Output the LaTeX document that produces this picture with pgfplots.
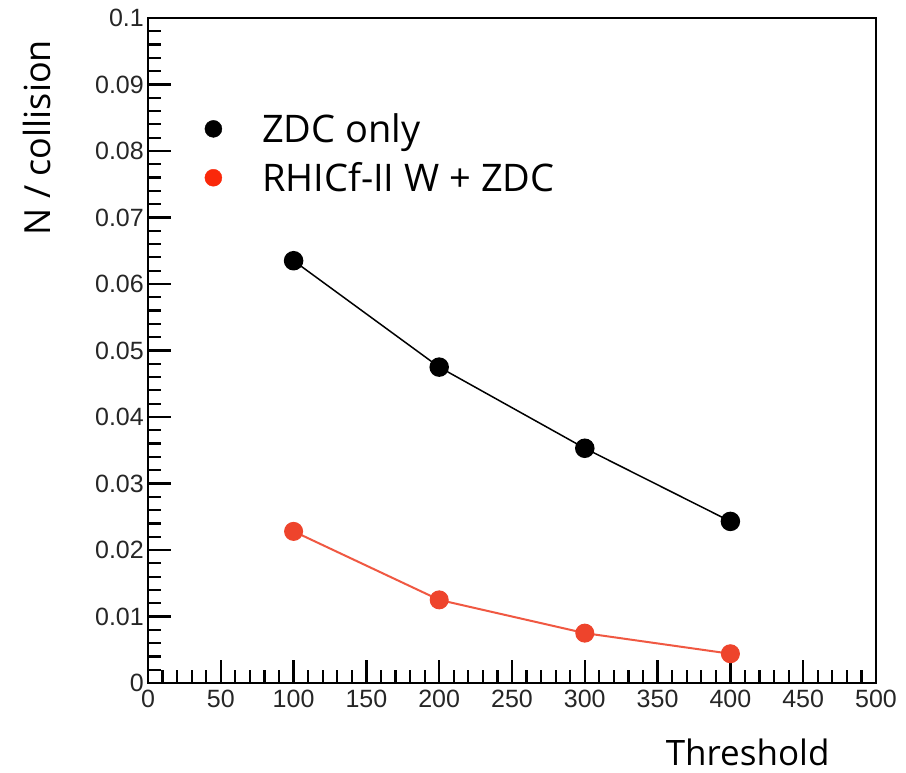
\documentclass[border=0pt]{standalone}
\usepackage{pgfplots}
\pgfplotsset{compat=1.18}
\usepackage{fontspec}
\newfontfamily\labelfont{Open Sans}
\newfontfamily\tickfont{Liberation Sans}

\definecolor{zdcred}{RGB}{238,68,44}
\definecolor{zdcredline}{RGB}{240,88,66}
\definecolor{legred}{RGB}{250,40,10}

\begin{document}
\begin{tikzpicture}
\fill[white] (-148pt,-89pt) rectangle (758pt,683pt);
\useasboundingbox (-148pt,-89pt) rectangle (758pt,683pt);
\begin{axis}[
  anchor=south west, at={(0pt,0pt)},
  scale only axis, width=728pt, height=665pt,
  xmin=0, xmax=500, ymin=0, ymax=0.1,
  axis line style={line width=2.2pt},
  major tick style={line width=2.4pt, black},
  minor tick style={line width=2.2pt, black},
  tick align=inside,
  xtick pos=bottom, ytick pos=left,
  xtick={0,50,...,500},
  minor x tick num=4,
  ytick={0,0.01,...,0.1},
  yticklabels={0,0.01,0.02,0.03,0.04,0.05,0.06,0.07,0.08,0.09,0.1},
  minor y tick num=4,
  major tick length=23pt, minor tick length=13pt,
  /pgf/number format/assume math mode=true,
  tick label style={font=\tickfont\fontsize{25}{27}\selectfont, text=black!85},
  yticklabel style={anchor=east, inner sep=0pt, xshift=-4pt},
  xticklabel style={anchor=north, inner sep=0pt, yshift=-7pt},
  xlabel={Threshold},
  ylabel={N / collision},
  every axis x label/.style={at={(axis description cs:0.941,-0.124)}, anchor=base east,
    font=\labelfont\fontsize{35}{40}\selectfont},
  every axis y label/.style={at={(axis description cs:-0.1346,0.820)}, anchor=base, rotate=90,
    font=\labelfont\fontsize{36}{40}\selectfont},
  legend image code/.code={\fill[#1] (0pt,0pt) circle (8.5pt); \path (0pt,18.5pt);},
  legend style={draw=none, fill=none, inner sep=0pt,
    at={(axis description cs:0.0776,0.8617)}, anchor=north west,
    font=\labelfont\fontsize{38}{44}\selectfont,
    row sep=15pt, column sep=40pt,
    nodes={inner sep=0pt, text depth=0.15em}},
  legend cell align=left,
]
% ZDC only
\addplot[black, line width=1.5pt, mark=*, mark size=9pt, forget plot]
  coordinates {(100,0.0635) (200,0.0475) (300,0.0353) (400,0.0243)};
% RHICf-II W + ZDC
\addplot[zdcredline, line width=2pt, mark=*, mark size=9pt,
  mark options={draw=zdcred, fill=zdcred, line width=1pt}, forget plot]
  coordinates {(100,0.0228) (200,0.0125) (300,0.0075) (400,0.0044)};
\addlegendimage{black}
\addlegendentry{ZDC only}
\addlegendimage{legred}
\addlegendentry{RHICf-II W + ZDC}
\end{axis}
\end{tikzpicture}
\end{document}
